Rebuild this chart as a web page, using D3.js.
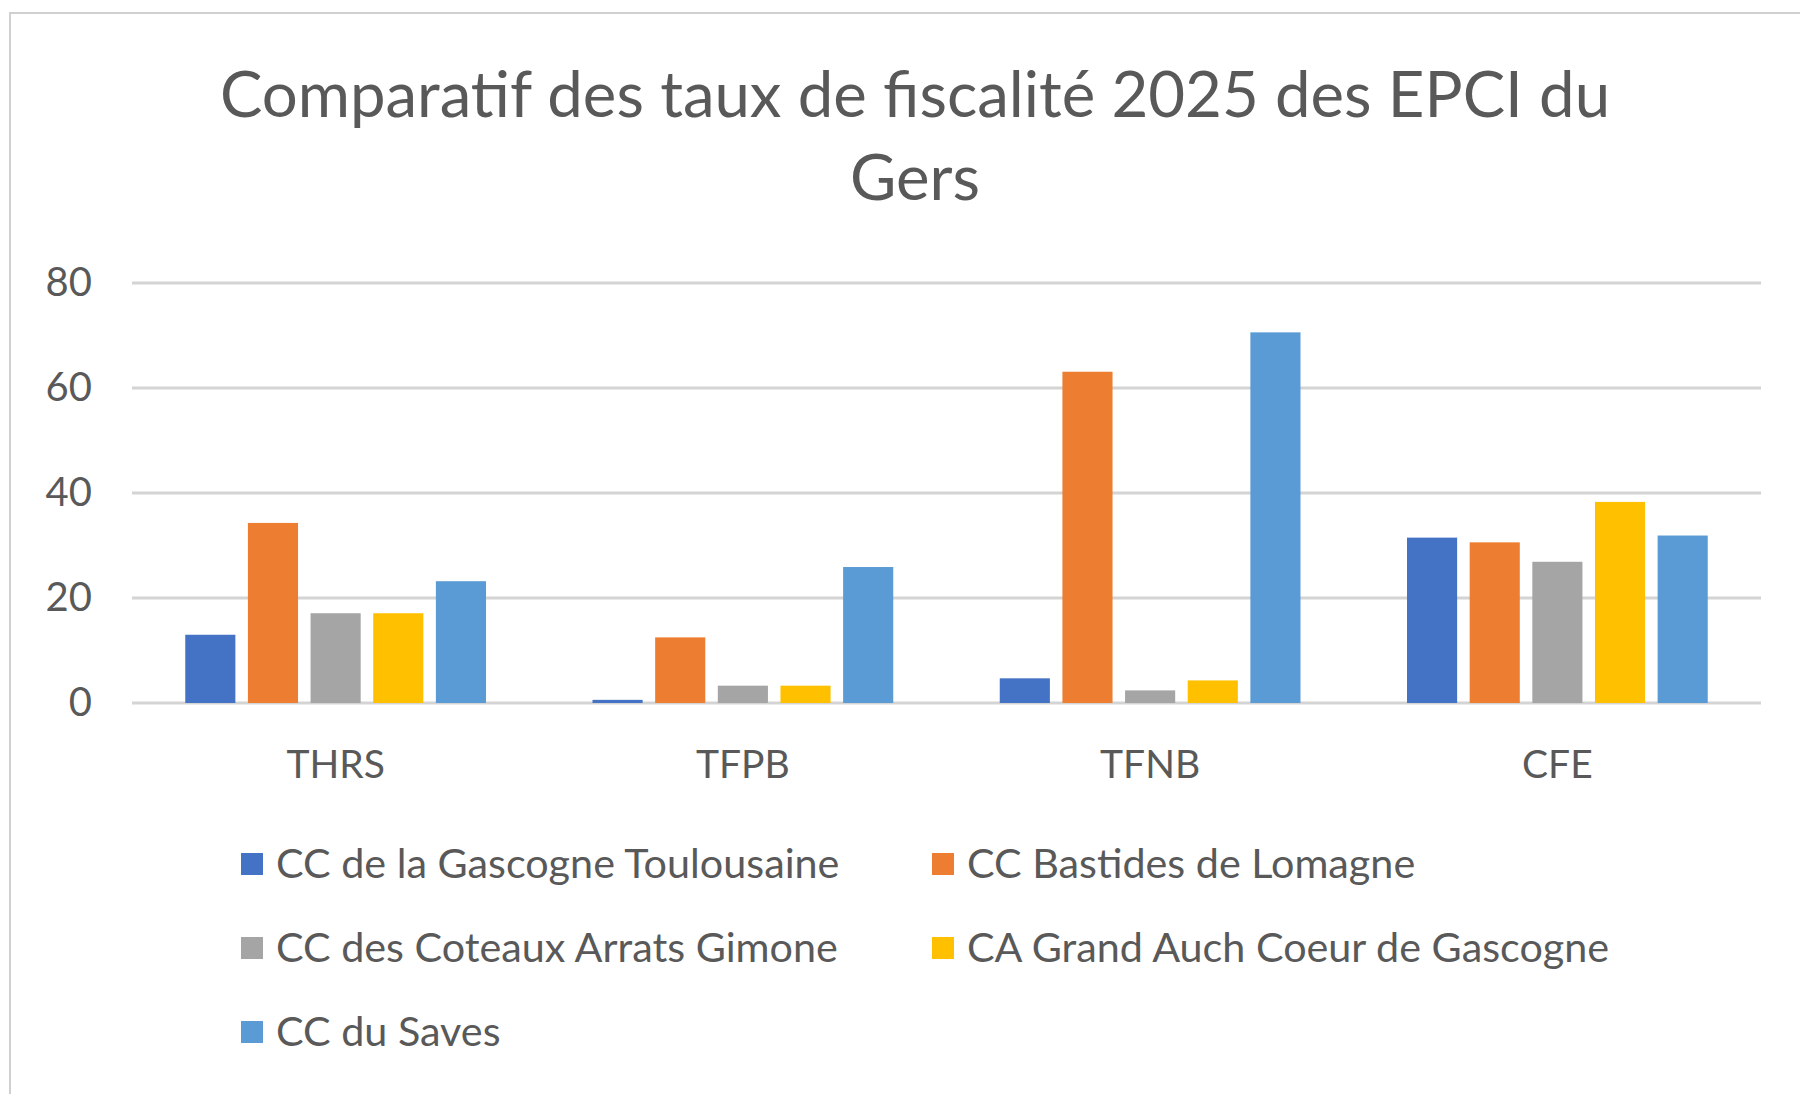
<!DOCTYPE html>
<html>
<head>
<meta charset="utf-8">
<script src="https://cdn.jsdelivr.net/npm/d3@7"></script>
<style>
  html, body { margin: 0; padding: 0; background: #fff; }
  svg { display: block; font-family: Lato, "Open Sans", sans-serif; }
</style>
</head>
<body>
<svg id="chart"></svg>
<script>
// Taux de fiscalité 2025 par EPCI du Gers
const categories = ["THRS", "TFPB", "TFNB", "CFE"];
const seriesNames = [
  "CC de la Gascogne Toulousaine",
  "CC Bastides de Lomagne",
  "CC des Coteaux Arrats Gimone",
  "CA Grand Auch Coeur de Gascogne",
  "CC du Saves"
];
const gascogneToulousaine = [13.0, 0.6, 4.7, 31.5];
const bastidesLomagne = [34.3, 12.5, 63.1, 30.6];
const coteauxArratsGimone = [17.1, 3.3, 2.4, 26.9];
const grandAuch = [17.1, 3.3, 4.3, 38.3];
const saves = [23.2, 25.9, 70.6, 31.9];
const yTicks = [0, 20, 40, 60, 80];
const colors = ["#4472C4", "#ED7D31", "#A5A5A5", "#FFC000", "#5B9BD5"];

((() => {
  const W = 1800, H = 1094;
  const margin = { top: 283, right: 39, bottom: 391, left: 132 };
  const width = W - margin.left - margin.right;
  const height = H - margin.top - margin.bottom;

  const allSeries = [gascogneToulousaine, bastidesLomagne, coteauxArratsGimone, grandAuch, saves];
  const data = categories.map((c, i) => ({
    category: c,
    values: seriesNames.map((s, j) => ({ series: s, value: allSeries[j][i] }))
  }));

  const svg = d3.select("#chart").attr("width", W).attr("height", H);

  // Chart frame
  svg.append("rect")
    .attr("x", 10).attr("y", 13)
    .attr("width", W).attr("height", H)
    .attr("fill", "none")
    .attr("stroke", "#d0d0d0")
    .attr("stroke-width", 2);

  // Title
  const title = svg.append("text")
    .attr("text-anchor", "middle")
    .attr("fill", "#595959")
    .style("font-size", "63.5px");
  title.append("tspan").attr("x", 915).attr("y", 117).text("Comparatif des taux de fiscalité 2025 des EPCI du");
  title.append("tspan").attr("x", 915).attr("y", 200).text("Gers");

  const chart = svg.append("g")
    .attr("transform", `translate(${margin.left},${margin.top})`);

  const x0 = d3.scaleBand()
    .domain(categories)
    .range([0, width])
    .padding(0);

  const x1 = d3.scaleBand()
    .domain(seriesNames)
    .range([0, x0.bandwidth()])
    .paddingInner(0.2)
    .paddingOuter(0.85);

  const y = d3.scaleLinear()
    .domain([0, 80])
    .range([height, 0]);

  const color = d3.scaleOrdinal().domain(seriesNames).range(colors);

  // Gridlines
  chart.append("g")
    .selectAll("line")
    .data(yTicks)
    .enter()
    .append("line")
    .attr("x1", 0).attr("x2", width)
    .attr("y1", d => y(d)).attr("y2", d => y(d))
    .attr("stroke", "#d4d4d4")
    .attr("stroke-width", 3);

  // Bars
  const groups = chart.selectAll(".group")
    .data(data)
    .enter()
    .append("g")
    .attr("class", "group")
    .attr("transform", d => `translate(${x0(d.category)},0)`);

  groups.selectAll("rect")
    .data(d => d.values)
    .enter()
    .append("rect")
    .attr("x", d => x1(d.series))
    .attr("y", d => y(d.value))
    .attr("width", x1.bandwidth())
    .attr("height", d => y(0) - y(d.value))
    .attr("fill", d => color(d.series));

  // Y axis labels
  const yAxis = chart.append("g")
    .attr("transform", "translate(-40,0)")
    .call(d3.axisLeft(y).tickValues(yTicks).tickSize(0).tickPadding(0));
  yAxis.select(".domain").remove();
  yAxis.selectAll("text")
    .attr("fill", "#595959")
    .style("font-size", "40px")
    .style("font-family", "Lato, 'Open Sans', sans-serif");

  // X axis labels
  const xAxis = chart.append("g")
    .attr("transform", `translate(0,${height})`)
    .call(d3.axisBottom(x0).tickSize(0).tickPadding(47));
  xAxis.select(".domain").remove();
  xAxis.selectAll("text")
    .attr("fill", "#595959")
    .style("font-size", "39px")
    .style("font-family", "Lato, 'Open Sans', sans-serif");

  // Legend
  const legendPos = [[241, 864], [932, 864], [241, 948], [932, 948], [241, 1032]];
  const legend = svg.append("g")
    .selectAll("g")
    .data(seriesNames)
    .enter()
    .append("g")
    .attr("transform", (d, i) => `translate(${legendPos[i][0]},${legendPos[i][1]})`);

  legend.append("rect")
    .attr("x", 0).attr("y", -11)
    .attr("width", 22).attr("height", 22)
    .attr("fill", d => color(d));

  legend.append("text")
    .attr("x", 35)
    .attr("y", 0)
    .attr("dy", "0.35em")
    .attr("fill", "#595959")
    .style("font-size", "41.3px")
    .text(d => d);
})());
</script>
</body>
</html>
